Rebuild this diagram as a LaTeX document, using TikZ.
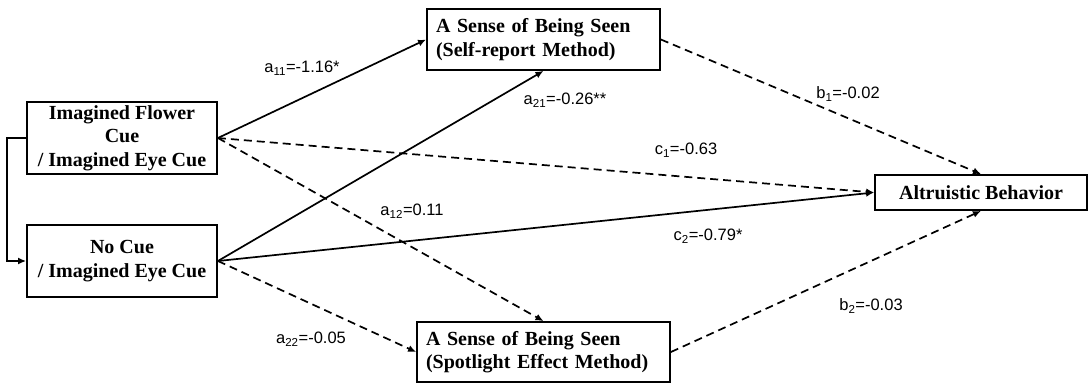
\documentclass[tikz,border=0pt]{standalone}
\usepackage{fontspec}
\setmainfont{Liberation Serif}
\setsansfont{Liberation Sans}
\usetikzlibrary{arrows.meta}
\tikzset{
  box/.style={draw, line width=1.8pt, inner sep=0pt, font=\fontsize{20}{23.5}\selectfont\bfseries},
  lbl/.style={font=\fontsize{16.5}{19}\selectfont\sffamily, inner sep=0pt},
  conn/.style={line width=1.7pt, -{Latex[length=8pt,width=7pt]}},
  dconn/.style={conn, dash pattern=on 8pt off 5pt}
}
\begin{document}
\begin{tikzpicture}[x=1pt,y=-1pt]
\useasboundingbox[fill=white] (0,0) rectangle (1092,389);
\node[box, minimum width=190pt, minimum height=72pt, align=center] (flower) at (122,138) {Imagined Flower\\Cue\\/ Imagined Eye Cue};
\node[box, minimum width=190pt, minimum height=72pt, align=center] (nocue) at (122,261) {No Cue\\/ Imagined Eye Cue};
\node[box, minimum width=233pt, minimum height=61pt, align=left, text width=215pt] (top) at (543.5,39.5) {A Sense of Being Seen\\(Self-report Method)};
\node[box, minimum width=253pt, minimum height=60pt, align=left, text width=235pt] (bottom) at (543.5,352) {A Sense of Being Seen\\(Spotlight Effect Method)};
\node[box, minimum width=212pt, minimum height=35pt, align=center] (alt) at (981,192.5) {Altruistic Behavior};

\coordinate (bend) at (7,138);
\draw[conn] (flower.west) -- (bend) |- (nocue.west);

\draw[conn] (flower.east) -- (top.west);
\draw[dconn] (flower.east) -- (alt.west);
\draw[dconn] (flower.east) -- (bottom.north);
\draw[conn] (nocue.east) -- (top.south);
\draw[conn] (nocue.east) -- (alt.west);
\draw[dconn] (nocue.east) -- (bottom.west);
\draw[dconn] (top.east) -- (alt.north);
\draw[dconn] (bottom.east) -- (alt.south);

\node[lbl] (la11) at (302,68) {a\textsubscript{11}=-1.16*};
\node[lbl] (la21) at (565,100) {a\textsubscript{21}=-0.26**};
\node[lbl] (lc1) at (686,150) {c\textsubscript{1}=-0.63};
\node[lbl] (la12) at (412,211) {a\textsubscript{12}=0.11};
\node[lbl] (lc2) at (708,236) {c\textsubscript{2}=-0.79*};
\node[lbl] (lb1) at (848,94) {b\textsubscript{1}=-0.02};
\node[lbl] (lb2) at (871,306) {b\textsubscript{2}=-0.03};
\node[lbl] (la22) at (311,339) {a\textsubscript{22}=-0.05};
\end{tikzpicture}
\end{document}
